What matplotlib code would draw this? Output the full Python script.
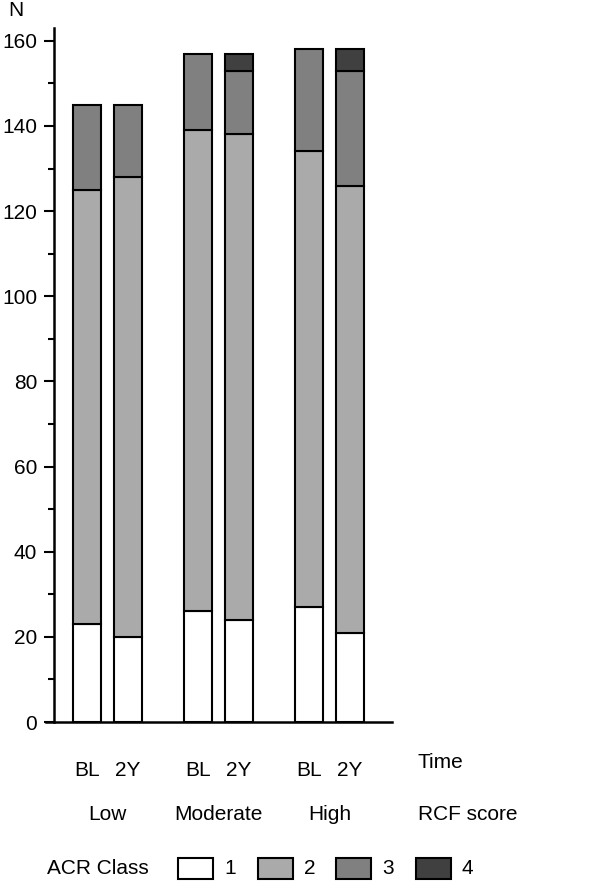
import matplotlib.pyplot as plt
import numpy as np
from matplotlib.patches import Rectangle
from matplotlib.ticker import MultipleLocator
import matplotlib.transforms as mtransforms

plt.rcParams['font.family'] = ['Liberation Sans', 'DejaVu Sans']

groups = ["Low", "Moderate", "High"]
times = ["BL", "2Y"]
classes = ["1", "2", "3", "4"]
colors = ["#ffffff", "#aaaaaa", "#808080", "#404040"]

# counts per bar: Low BL, Low 2Y, Moderate BL, Moderate 2Y, High BL, High 2Y
class1 = [23, 20, 26, 24, 27, 21]
class2 = [102, 108, 113, 114, 107, 105]
class3 = [20, 17, 18, 15, 24, 27]
class4 = [0, 0, 0, 4, 0, 5]
series = [class1, class2, class3, class4]

fig = plt.figure(figsize=(6, 8.82), dpi=100)
W, H = 600, 882
ax = fig.add_axes([46 / W, 1 - 722 / H, (392 - 46) / W, (722 - 28) / H])

gap = 111 / 41
xs = np.array([g * gap + t for g in range(len(groups)) for t in range(len(times))])
width = 28 / 41
bottom = np.zeros(len(xs))
for vals, col in zip(series, colors):
    vals = np.array(vals, dtype=float)
    mask = vals > 0
    ax.bar(xs[mask], vals[mask], width=width, bottom=bottom[mask], color=col,
           edgecolor="black", linewidth=1.5)
    bottom += vals

ax.set_xlim((46 - 87) / 41, (392 - 87) / 41)
ax.set_ylim(0, 163)
ax.yaxis.set_major_locator(MultipleLocator(20))
ax.yaxis.set_minor_locator(MultipleLocator(10))
for s in ["top", "right"]:
    ax.spines[s].set_visible(False)
ax.spines["left"].set_linewidth(1.8)
ax.spines["bottom"].set_linewidth(1.8)
ax.spines["left"].set_position(("data", (54 - 87) / 41))
ax.tick_params(axis="y", which="major", length=7, width=1.5, labelsize=15, pad=5)
ax.tick_params(axis="y", which="minor", length=4, width=1.5)
ax.set_xticks(xs)
ax.set_xticklabels(times * len(groups), fontsize=15)
ax.tick_params(axis="x", length=0, pad=28)

fs = 15
def px(x, y):
    return x / W, 1 - y / H

# group labels
tr = mtransforms.blended_transform_factory(ax.transData, fig.transFigure)
for g, name in enumerate(groups):
    ax.text(g * gap + 0.5, 1 - 815 / H, name, transform=tr, ha="center",
            va="center", fontsize=fs)
fig.text(*px(418, 762), "Time", ha="left", va="center", fontsize=fs)
fig.text(*px(418, 815), "RCF score", ha="left", va="center", fontsize=fs)
fig.text(*px(8, 10), "N", ha="left", va="center", fontsize=fs)

# legend row
fig.text(*px(47, 868), "ACR Class", ha="left", va="center", fontsize=fs)
box_x = [178, 258, 336, 416]
for bx, lab, col in zip(box_x, classes, colors):
    x0, y0 = px(bx, 879)
    fig.add_artist(Rectangle((x0, y0), 35 / W, 21 / H, transform=fig.transFigure,
                             facecolor=col, edgecolor="black", linewidth=1.5))
    fig.text(*px(bx + 46, 868), lab, ha="left", va="center", fontsize=fs)

fig.savefig("out.png", dpi=100)
